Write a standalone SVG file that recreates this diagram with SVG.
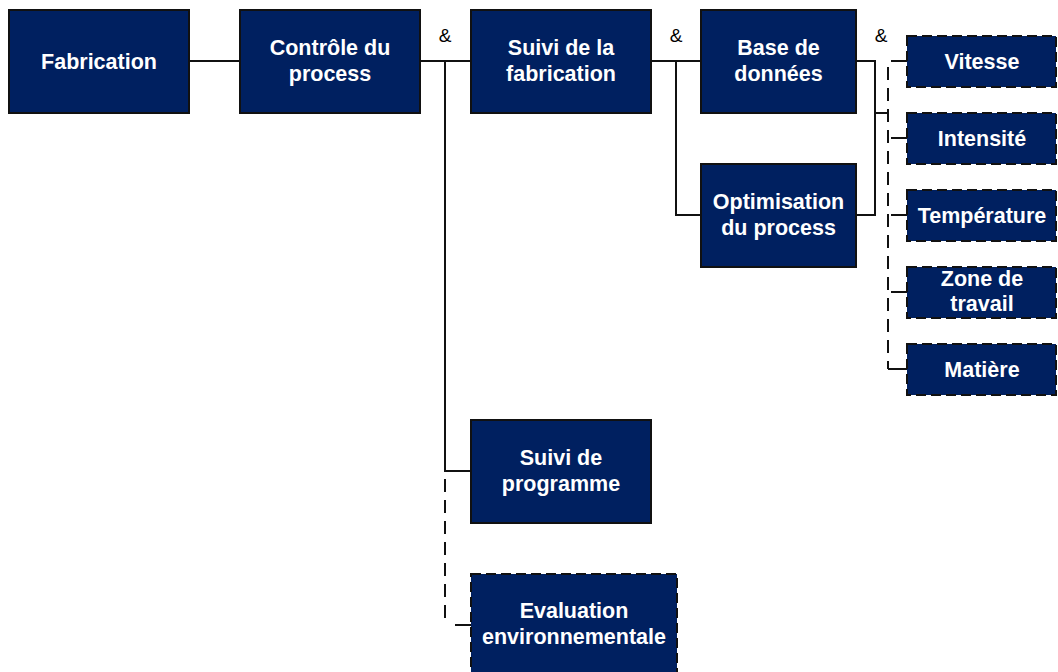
<svg xmlns="http://www.w3.org/2000/svg" width="1058" height="672" viewBox="0 0 1058 672">
<style>
.box{fill:#002060;stroke:#111;stroke-width:2}
.dbox{fill:#002060;stroke:#111;stroke-width:2;stroke-dasharray:10 5}
.t{font-family:"Liberation Sans",Arial,sans-serif;font-weight:bold;font-size:21.5px;fill:#fff;text-anchor:middle}
.amp{font-family:"Liberation Sans",Arial,sans-serif;font-size:19px;fill:#000;text-anchor:middle}
.ln{fill:none;stroke:#111;stroke-width:2}
.dl{fill:none;stroke:#111;stroke-width:2;stroke-dasharray:13 8}
</style>
<rect width="1058" height="672" fill="#fff"/>
<g id="connectors">
<line class="ln" x1="189" y1="61" x2="240" y2="61"/>
<polyline class="ln" points="420,61 471,61"/>
<polyline class="ln" points="445,61 445,471 471,471"/>
<polyline class="dl" points="445,479 445,625"/>
<line class="ln" x1="455" y1="625" x2="471" y2="625"/>
<polyline class="ln" points="651,61 701,61"/>
<polyline class="ln" points="676,61 676,215 701,215"/>
<polyline class="ln" points="856,61 875,61 875,215 856,215"/>
<line class="ln" x1="875" y1="113" x2="889" y2="113"/>
<polyline class="dl" points="888,67 888,369"/>
<line class="ln" x1="891" y1="61" x2="907" y2="61"/>
<line class="ln" x1="891" y1="138" x2="907" y2="138"/>
<line class="ln" x1="891" y1="215" x2="907" y2="215"/>
<line class="ln" x1="891" y1="292" x2="907" y2="292"/>
<line class="ln" x1="888" y1="369" x2="907" y2="369"/>
<text class="amp" x="445" y="42">&amp;</text>
<text class="amp" x="676" y="42">&amp;</text>
<text class="amp" x="881" y="42">&amp;</text>
</g>
<g id="fabrication"><rect class="box" x="9" y="10" width="180" height="103"/><text class="t" x="99" y="68.5">Fabrication</text></g>
<g id="controle"><rect class="box" x="240" y="10" width="180" height="103"/><text class="t" x="330" y="55">Contrôle du</text><text class="t" x="330" y="81">process</text></g>
<g id="suivi-fab"><rect class="box" x="471" y="10" width="180" height="103"/><text class="t" x="561" y="55">Suivi de la</text><text class="t" x="561" y="81">fabrication</text></g>
<g id="base"><rect class="box" x="701" y="10" width="155" height="103"/><text class="t" x="778.5" y="55">Base de</text><text class="t" x="778.5" y="81">données</text></g>
<g id="optim"><rect class="box" x="701" y="164" width="155" height="103"/><text class="t" x="778.5" y="209">Optimisation</text><text class="t" x="778.5" y="235">du process</text></g>
<g id="vitesse"><rect class="dbox" x="907" y="36" width="149" height="51"/><text class="t" x="982" y="68.5">Vitesse</text></g>
<g id="intensite"><rect class="dbox" x="907" y="113" width="149" height="51"/><text class="t" x="982" y="145.5">Intensité</text></g>
<g id="temperature"><rect class="dbox" x="907" y="190" width="149" height="51"/><text class="t" x="982" y="222.5">Température</text></g>
<g id="zone"><rect class="dbox" x="907" y="267" width="149" height="51"/><text class="t" x="982" y="286">Zone de</text><text class="t" x="982" y="311">travail</text></g>
<g id="matiere"><rect class="dbox" x="907" y="344" width="149" height="51"/><text class="t" x="982" y="376.5">Matière</text></g>
<g id="suivi-prog"><rect class="box" x="471" y="420" width="180" height="103"/><text class="t" x="561" y="465">Suivi de</text><text class="t" x="561" y="491">programme</text></g>
<g id="evaluation"><rect class="dbox" x="471" y="574" width="206" height="103"/><text class="t" x="574" y="618">Evaluation</text><text class="t" x="574" y="644">environnementale</text></g>
</svg>
